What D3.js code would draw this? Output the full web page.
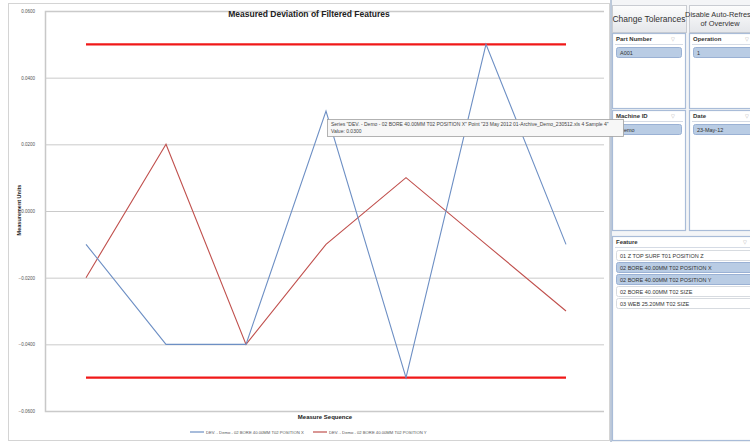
<!DOCTYPE html>
<html>
<head>
<meta charset="utf-8">
<script src="https://cdn.jsdelivr.net/npm/d3@7"></script>
<style>
  body { margin: 0; background: #fff; }
  svg { display: block; }
  text { font-family: "Liberation Sans", Arial, sans-serif; }
</style>
</head>
<body>
<svg id="main" width="750" height="442"></svg>
<script>
// chart data
const samples = ["Sample 1", "Sample 2", "Sample 3", "Sample 4", "Sample 5", "Sample 6", "Sample 7"];
const posX = [-0.01, -0.04, -0.04, 0.03, -0.05, 0.05, -0.01];
const posY = [-0.02, 0.02, -0.04, -0.01, 0.01, -0.01, -0.03];
const upperTol = [0.05, 0.05, 0.05, 0.05, 0.05, 0.05, 0.05];
const lowerTol = [-0.05, -0.05, -0.05, -0.05, -0.05, -0.05, -0.05];
const yTicks = [-0.06, -0.04, -0.02, 0, 0.02, 0.04, 0.06];
const seriesNames = ["DEV. - Demo - 02 BORE 40.00MM T02 POSITION X", "DEV. - Demo - 02 BORE 40.00MM T02 POSITION Y"];

// slicer data
const partNumbers = ["A001"];
const operations = ["1"];
const machines = ["Demo"];
const dates = ["23-May-12"];
const features = [
  "01 Z TOP SURF T01 POSITION Z",
  "02 BORE 40.00MM T02 POSITION X",
  "02 BORE 40.00MM T02 POSITION Y",
  "02 BORE 40.00MM T02 SIZE",
  "03 WEB 25.20MM T02 SIZE"
];
const selectedFeatures = [1, 2];

const svg = d3.select("#main");

// chart frame
svg.append("rect")
  .attr("x", 8.5).attr("y", 3.5)
  .attr("width", 601).attr("height", 437)
  .attr("fill", "#fff")
  .attr("stroke", "#d4d4d4");

const x = d3.scalePoint().domain(samples).range([46, 606]).padding(0.5);
const y = d3.scaleLinear().domain([-0.06, 0.06]).range([411, 11]);

// gridlines + y axis
const yAxis = d3.axisLeft(y).tickValues(yTicks).tickFormat(d3.format(".4f"))
  .tickSize(-(604 - 45)).tickPadding(10);
const ga = svg.append("g").attr("transform", "translate(45,0)").call(yAxis);
ga.select(".domain").attr("stroke", "#c8c8c8").attr("stroke-width", 1.5);
ga.selectAll(".tick line").attr("stroke", "#cacaca");
ga.selectAll(".tick text").attr("font-size", 4.5).attr("fill", "#555");

svg.append("text")
  .attr("transform", "translate(21,210) rotate(-90)")
  .attr("text-anchor", "middle")
  .attr("font-size", 5.5).attr("font-weight", "bold").attr("fill", "#222")
  .text("Measurement Units");

svg.append("text")
  .attr("x", 309).attr("y", 17)
  .attr("text-anchor", "middle")
  .attr("font-family", "Lato")
  .attr("font-size", 8.5).attr("font-weight", "bold").attr("fill", "#222")
  .text("Measured Deviation of Filtered Features");

svg.append("text")
  .attr("x", 325).attr("y", 419)
  .attr("text-anchor", "middle")
  .attr("font-family", "Lato")
  .attr("font-size", 6).attr("font-weight", "bold").attr("fill", "#222")
  .text("Measure Sequence");

const line = d3.line().x((d, i) => x(samples[i])).y(d => y(d));

// tolerance limits
[upperTol, lowerTol].forEach(t => {
  svg.append("path").datum(t)
    .attr("d", line).attr("fill", "none")
    .attr("stroke", "#f01818").attr("stroke-width", 2.4);
});

svg.append("path").datum(posY)
  .attr("d", line).attr("fill", "none")
  .attr("stroke", "#c0504d").attr("stroke-width", 1.1);
svg.append("path").datum(posX)
  .attr("d", line).attr("fill", "none")
  .attr("stroke", "#6d8fc4").attr("stroke-width", 1.1);

// legend
const legendColors = ["#6d8fc4", "#c0504d"];
const legendX = [190, 313];
seriesNames.forEach((n, i) => {
  svg.append("line")
    .attr("x1", legendX[i]).attr("x2", legendX[i] + 14)
    .attr("y1", 432).attr("y2", 432)
    .attr("stroke", legendColors[i]).attr("stroke-width", 1.2);
  svg.append("text")
    .attr("x", legendX[i] + 16).attr("y", 434)
    .attr("font-size", 4.2).attr("fill", "#555")
    .text(n);
});

// right hand panel
const panel = svg.append("g");
panel.append("rect").attr("x", 611).attr("y", 0).attr("width", 139).attr("height", 442).attr("fill", "#f4f5f7");
panel.append("line").attr("x1", 611).attr("x2", 611).attr("y1", 0).attr("y2", 442)
  .attr("stroke", "#a9b8cf").attr("stroke-width", 1.5);

const grad = svg.append("defs").append("linearGradient")
  .attr("id", "btn").attr("x1", 0).attr("x2", 0).attr("y1", 0).attr("y2", 1);
grad.append("stop").attr("offset", "0%").attr("stop-color", "#fdfdfd");
grad.append("stop").attr("offset", "100%").attr("stop-color", "#e4e6ea");

function button(bx, by, w, h, lines, fs) {
  panel.append("rect").attr("x", bx + 0.5).attr("y", by + 0.5).attr("width", w).attr("height", h)
    .attr("fill", "url(#btn)").attr("stroke", "#c9ccd2");
  lines.forEach((l, i) => {
    panel.append("text")
      .attr("x", bx + w / 2).attr("y", by + h / 2 + 3 + (i - (lines.length - 1) / 2) * 9)
      .attr("text-anchor", "middle").attr("font-size", fs).attr("fill", "#333")
      .attr("font-family", "Lato")
      .text(l);
  });
}
button(612, 5, 74, 27, ["Change Tolerances"], 8.5);
button(689, 5, 62, 27, ["Disable Auto-Refresh", "of Overview"], 7.4);

function slicer(sx, sy, w, h, title, items, selected) {
  const g = panel.append("g");
  g.append("rect").attr("x", sx + 0.5).attr("y", sy + 0.5).attr("width", w).attr("height", h)
    .attr("fill", "#fff").attr("stroke", "#a9bcd8").attr("stroke-width", 1.2);
  g.append("text").attr("x", sx + 4).attr("y", sy + 8)
    .attr("font-size", 6).attr("font-weight", "bold").attr("fill", "#333").text(title);
  g.append("line").attr("x1", sx + 3).attr("x2", sx + w - 2).attr("y1", sy + 11.5).attr("y2", sy + 11.5)
    .attr("stroke", "#d5dbe5");
  g.append("text").attr("x", sx + w - 14).attr("y", sy + 8)
    .attr("font-size", 5).attr("fill", "#aaa").text("\u25bd");
  items.forEach((it, i) => {
    const sel = selected.includes(i);
    g.append("rect").attr("x", sx + 4.5).attr("y", sy + 14.5 + i * 12).attr("width", w - 8).attr("height", 10)
      .attr("rx", 2)
      .attr("fill", sel ? "#b9cce4" : "#fff").attr("stroke", sel ? "#9ab1d4" : "#d7dbe0");
    g.append("text").attr("x", sx + 8).attr("y", sy + 21.5 + i * 12)
      .attr("font-size", 5.5).attr("fill", "#333").text(it);
  });
}
slicer(612, 33, 73, 75, "Part Number", partNumbers, [0]);
slicer(689, 33, 70, 75, "Operation", operations, [0]);
slicer(612, 110, 73, 120, "Machine ID", machines, [0]);
slicer(689, 110, 70, 120, "Date", dates, [0]);
slicer(612, 236, 145, 204, "Feature", features, selectedFeatures);

// tooltip at the fourth point of position X
const tx = x(samples[3]) + 1, ty = y(posX[3]) + 8;
const tip = svg.append("g");
tip.append("rect").attr("x", tx + 0.5).attr("y", ty + 0.5).attr("width", 296).attr("height", 17)
  .attr("fill", "#f7f7f7").attr("stroke", "#a0a0a0").attr("stroke-width", 0.8);
tip.append("text").attr("x", tx + 4).attr("y", ty + 7)
  .attr("font-size", 5).attr("fill", "#444")
  .text("Series \"" + seriesNames[0] + "\" Point \"23 May 2012 01-Archive_Demo_230512.xls 4 Sample 4\"");
tip.append("text").attr("x", tx + 4).attr("y", ty + 14)
  .attr("font-size", 5).attr("fill", "#444")
  .text("Value: " + d3.format(".4f")(posX[3]));
</script>
</body>
</html>
